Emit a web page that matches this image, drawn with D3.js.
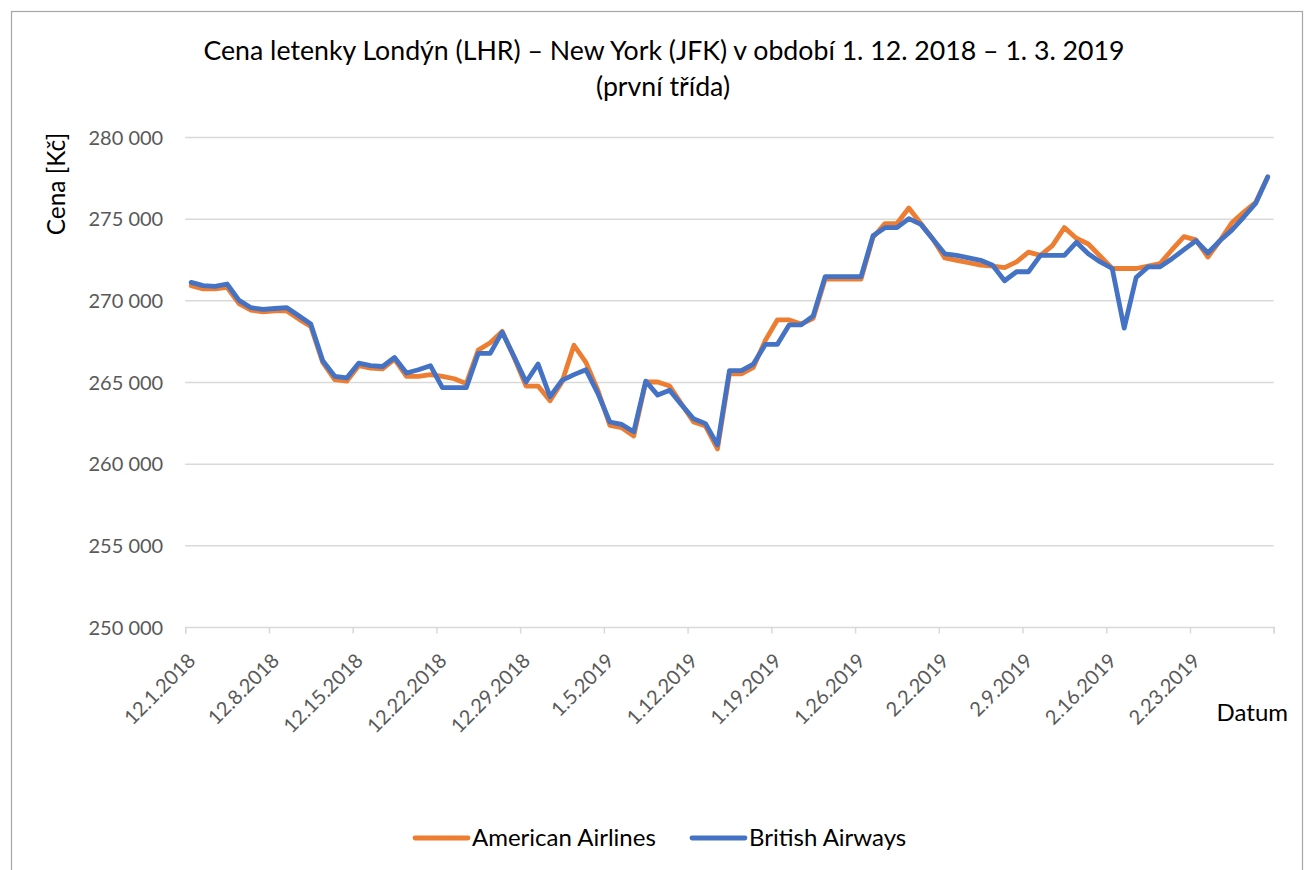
<!DOCTYPE html>
<html><head><meta charset="utf-8">
<script src="https://cdn.jsdelivr.net/npm/d3@7"></script>
<style>
body{margin:0;background:#fff}
svg{display:block}
text{font-family:Lato,"Open Sans",sans-serif}
</style>
</head><body>
<svg id="chart" width="1309" height="870"></svg>
<script>
// ---- data ----
const startDate = Date.UTC(2018, 11, 1);
const endDate = Date.UTC(2019, 2, 2);
const dates = d3.utcDay.range(startDate, endDate); // 1.12.2018 ... 1.3.2019 (91 days)

const americanAirlines = [
  270900,270700,270700,270800,269800,269400,269300,269350,269350,268850,
  268400,266200,265150,265050,266000,265850,265800,266400,265350,265350,
  265450,265350,265200,264900,266950,267400,268100,266500,264750,264750,
  263850,265000,267250,266200,264500,262350,262200,261700,265000,265000,
  264750,263650,262550,262300,260900,265500,265500,265900,267550,268800,
  268800,268550,268900,271300,271300,271300,271300,273850,274700,274700,
  275650,274700,273750,272600,272450,272300,272150,272100,272000,272350,
  272950,272750,273350,274450,273800,273450,272700,271950,271950,271950,
  272100,272250,273100,273900,273700,272650,273650,274750,275400,276000,
  277550
];
const britishAirways = [
  271100,270900,270850,271000,270000,269550,269450,269500,269550,269050,
  268550,266300,265350,265250,266150,266000,265950,266500,265550,265750,
  266000,264650,264650,264650,266750,266750,268050,266550,265000,266100,
  264100,265100,265450,265750,264300,262550,262400,261950,265050,264200,
  264500,263600,262750,262450,261150,265700,265700,266100,267300,267300,
  268500,268500,269050,271450,271450,271450,271450,273950,274450,274450,
  275000,274650,273750,272850,272750,272600,272450,272150,271200,271750,
  271750,272750,272750,272750,273550,272850,272350,271950,268300,271400,
  272050,272050,272550,273100,273650,272900,273650,274300,275100,275950,
  277550
];
const seriesNames = ["American Airlines", "British Airways"];
const seriesColors = ["#ED7D31", "#4472C4"];
const tickLabels = ["12.1.2018","12.8.2018","12.15.2018","12.22.2018","12.29.2018",
  "1.5.2019","1.12.2019","1.19.2019","1.26.2019","2.2.2019","2.9.2019","2.16.2019","2.23.2019",""];
const yTicks = [250000,255000,260000,265000,270000,275000,280000];
const titleLines = ["Cena letenky Londýn (LHR) – New York (JFK) v období 1. 12. 2018 – 1. 3. 2019", "(první třída)"];
const yTitle = "Cena [Kč]";
const xTitle = "Datum";

// ---- drawing ----
const svg = d3.select("#chart");
const plot = {left: 185.2, right: 1273.7, top: 137, bottom: 627};

svg.append("rect").attr("x", 11.5).attr("y", 11.5).attr("width", 1291).attr("height", 900)
  .attr("fill", "#fff").attr("stroke", "#a6a6a6").attr("stroke-width", 1.2);

const x = d3.scaleUtc().domain([startDate, endDate]).range([plot.left, plot.right]);
const y = d3.scaleLinear().domain([250000, 280000]).range([plot.bottom, plot.top]);
const half = 12 * 3600 * 1000;

const locale = d3.formatLocale({decimal: ",", thousands: "\u00a0", grouping: [3], currency: ["", " Kč"]});
const fmt = locale.format(",d");

// gridlines + y labels
const yAxis = d3.axisLeft(y).tickValues(yTicks).tickFormat(fmt).tickSize(-(plot.right - plot.left)).tickPadding(22);
const gy = svg.append("g").attr("transform", `translate(${plot.left},0)`).call(yAxis);
gy.select(".domain").remove();
gy.selectAll(".tick line").attr("stroke", "#d9d9d9").attr("stroke-width", 1.5);
gy.selectAll(".tick text").attr("fill", "#595959").attr("font-size", 20).attr("dy", "0.35em");
gy.selectAll(".tick").filter(d => d === 250000).select("line").remove();

// x axis
const tickDates = d3.utcDay.range(startDate, endDate + 1, 7);
const xAxis = d3.axisBottom(x).tickValues(tickDates).tickSize(6.5).tickFormat((d, i) => tickLabels[i]);
const gx = svg.append("g").attr("transform", `translate(0,${plot.bottom})`).call(xAxis);
gx.select(".domain").attr("stroke", "#d9d9d9").attr("stroke-width", 1.5);
gx.selectAll(".tick line").attr("stroke", "#d9d9d9").attr("stroke-width", 1.5);
gx.selectAll(".tick text")
  .attr("fill", "#595959").attr("font-size", 20)
  .attr("y", 0).attr("dy", "0.35em")
  .attr("text-anchor", "end")
  .attr("transform", "translate(6,30) rotate(-45)");

// lines
const line = d3.line().x((d, i) => x(+dates[i] + half)).y(d => y(d)).curve(d3.curveLinear);
[americanAirlines, britishAirways].forEach((s, k) => {
  svg.append("path").datum(s).attr("d", line).attr("fill", "none")
    .attr("stroke", seriesColors[k]).attr("stroke-width", 4.8)
    .attr("stroke-linejoin", "round").attr("stroke-linecap", "round");
});

// titles
const t = svg.append("text").attr("text-anchor", "middle").attr("fill", "#000").attr("font-size", 26.7);
t.append("tspan").attr("x", 664).attr("y", 60).text(titleLines[0]);
t.append("tspan").attr("x", 663).attr("y", 96).text(titleLines[1]);

svg.append("text").attr("transform", "translate(56,184) rotate(-90)")
  .attr("text-anchor", "middle").attr("dy", "0.35em").attr("font-size", 24.5).attr("fill", "#000").text(yTitle);
svg.append("text").attr("x", 1288).attr("y", 721).attr("text-anchor", "end")
  .attr("font-size", 24).attr("fill", "#000").text(xTitle);

// legend
const legendItems = [{x: 415}, {x: 692}];
legendItems.forEach((L, k) => {
  const g = svg.append("g").attr("transform", `translate(${L.x},838)`);
  g.append("line").attr("x1", 0).attr("x2", 53).attr("stroke", seriesColors[k])
    .attr("stroke-width", 4.8).attr("stroke-linecap", "round");
  g.append("text").attr("x", 57).attr("y", 0).attr("dy", "0.35em").attr("font-size", 24)
    .attr("fill", "#000").text(seriesNames[k]);
});
</script>
</body></html>
